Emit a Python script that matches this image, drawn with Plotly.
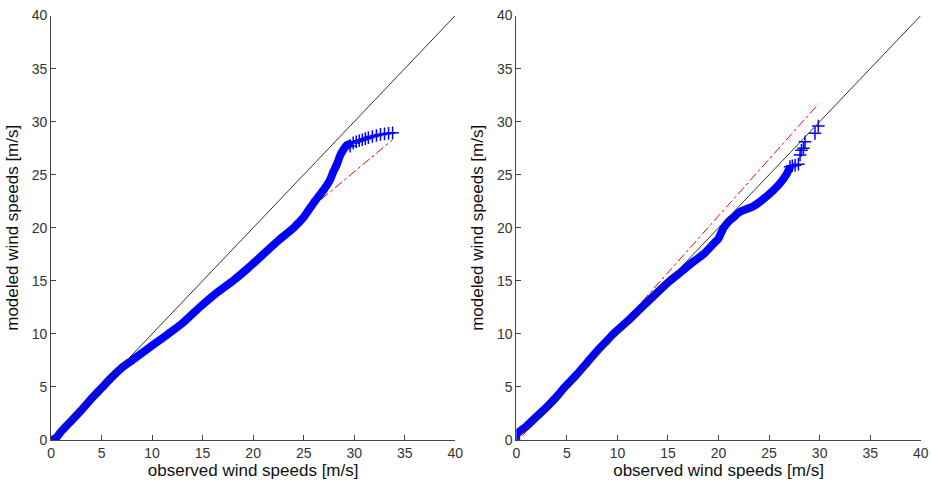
import plotly.graph_objects as go

# left panel: quantiles
left_band_x = [0.0, 0.3, 0.6, 1.0, 2.0, 3.0, 4.0, 5.0, 6.0, 7.0, 8.0, 9.0, 10.0, 11.6, 13.0, 14.7,
               16.3, 18.0, 19.5, 21.0, 22.5, 24.0, 25.0, 26.1, 27.0, 27.6, 27.9, 28.3, 28.6, 28.9, 29.3, 29.8]
left_band_y = [0.0, 0.1, 0.3, 0.8, 1.8, 2.8, 3.9, 4.9, 5.9, 6.8, 7.5, 8.2, 8.9, 10.0, 11.0, 12.5,
               13.8, 15.0, 16.2, 17.5, 18.8, 20.0, 21.0, 22.5, 23.6, 24.5, 25.2, 26.0, 26.8, 27.3, 27.8, 28.0]
left_tail_x = [29.6, 29.9, 30.2, 30.5, 30.8, 31.1, 31.4, 31.8, 32.2, 32.6, 33.0, 33.4, 33.8]
left_tail_y = [27.7, 28.0, 28.1, 28.2, 28.3, 28.4, 28.5, 28.6, 28.7, 28.8, 28.85, 28.9, 28.95]
left_fit_x = [24.0, 33.8]
left_fit_y = [20.5, 28.3]

# right panel
right_band_x = [0.0, 0.0, 0.3, 0.6, 1.0, 2.0, 3.0, 4.0, 4.8, 6.0, 7.0, 8.0, 9.0, 9.6, 11.0, 12.4, 13.5,
                15.2, 16.5, 17.5, 18.5, 19.5, 20.0, 20.5, 21.0, 21.5, 22.1, 23.4, 24.8, 25.9, 26.7, 27.1]
right_band_y = [0.0, 0.6, 0.8, 1.0, 1.3, 2.2, 3.1, 4.1, 5.0, 6.2, 7.3, 8.4, 9.4, 10.0, 11.2, 12.5, 13.5,
                15.0, 16.0, 16.8, 17.5, 18.5, 19.0, 20.0, 20.6, 21.0, 21.5, 22.0, 23.0, 24.0, 25.0, 25.8]
right_tail_x = [27.07, 27.3, 27.57, 27.9, 28.06, 28.2, 28.4, 28.55, 29.54, 29.87]
right_tail_y = [25.76, 25.85, 25.9, 26.0, 26.86, 27.3, 27.5, 28.1, 28.9, 29.6]
right_fit_x = [0.6, 29.9]
right_fit_y = [0.4, 31.7]

diag = [0, 40]
ticks = [0, 5, 10, 15, 20, 25, 30, 35, 40]

fig = go.Figure()

panels = [
    ("x", "y", left_band_x, left_band_y, left_tail_x, left_tail_y, left_fit_x, left_fit_y),
    ("x2", "y2", right_band_x, right_band_y, right_tail_x, right_tail_y, right_fit_x, right_fit_y),
]
for xa, ya, bx, by, tx, ty, fx, fy in panels:
    fig.add_trace(go.Scatter(x=fx, y=fy, mode="lines", xaxis=xa, yaxis=ya,
                             line=dict(color="#ff0000", width=1, dash="dashdot")))
    fig.add_trace(go.Scatter(x=bx, y=by, mode="lines", xaxis=xa, yaxis=ya,
                             line=dict(color="#0000ff", width=8, shape="spline", smoothing=0.6)))
    fig.add_trace(go.Scatter(x=tx, y=ty, mode="markers", xaxis=xa, yaxis=ya,
                             marker=dict(symbol="cross-thin", size=9,
                                         line=dict(color="#0000ff", width=1.5))))
    fig.add_trace(go.Scatter(x=diag, y=diag, mode="lines", xaxis=xa, yaxis=ya,
                             line=dict(color="#333333", width=1)))

title_font = dict(family="Liberation Sans", size=17, color="#111111")
axis_common = dict(range=[0, 40], tickvals=ticks, ticks="inside", ticklen=5,
                   tickcolor="#444444", showline=True, linecolor="#444444", linewidth=1,
                   showgrid=False, zeroline=False, mirror=False, automargin=False,
                   tickfont=dict(family="Liberation Sans", size=14, color="#333333"))

fig.update_layout(
    width=931, height=487,
    margin=dict(l=0, r=0, t=0, b=0),
    paper_bgcolor="white", plot_bgcolor="white",
    showlegend=False,
    xaxis=dict(domain=[0.0548, 0.489], anchor="y",
               title=dict(text="observed wind speeds [m/s]", standoff=2, font=title_font),
               **axis_common),
    yaxis=dict(domain=[0.0965, 0.968], anchor="x",
               title=dict(text="modeled wind speeds [m/s]", standoff=8, font=title_font),
               **axis_common),
    xaxis2=dict(domain=[0.5546, 0.989], anchor="y2",
                title=dict(text="observed wind speeds [m/s]", standoff=2, font=title_font),
                **axis_common),
    yaxis2=dict(domain=[0.0965, 0.968], anchor="x2",
                title=dict(text="modeled wind speeds [m/s]", standoff=8, font=title_font),
                **axis_common),
)

fig.write_html("out.html", config={"displayModeBar": False},
               post_script="document.body.style.margin='0';")
